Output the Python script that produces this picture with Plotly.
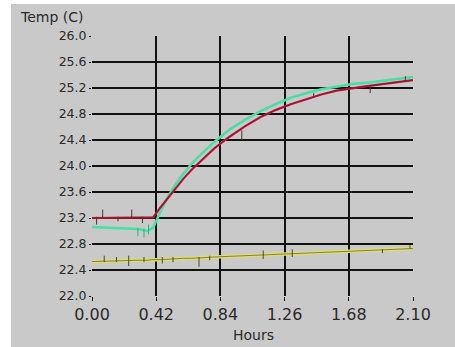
import plotly.graph_objects as go

# ---- data ----
hours = [0.00, 0.10, 0.20, 0.30, 0.36, 0.40, 0.45, 0.50, 0.55, 0.60, 0.65, 0.70,
         0.80, 0.90, 1.00, 1.10, 1.20, 1.30, 1.40, 1.50, 1.60, 1.70, 1.80, 1.90,
         2.00, 2.10]
red_temp = [23.20, 23.20, 23.20, 23.20, 23.20, 23.21, 23.37, 23.52, 23.67, 23.81,
            23.94, 24.05, 24.27, 24.45, 24.61, 24.75, 24.86, 24.95, 25.03, 25.10,
            25.16, 25.20, 25.23, 25.26, 25.29, 25.32]
cyan_temp = [23.06, 23.05, 23.04, 23.03, 23.00, 23.05, 23.31, 23.54, 23.73, 23.89,
             24.03, 24.15, 24.37, 24.56, 24.71, 24.84, 24.95, 25.05, 25.12, 25.18,
             25.22, 25.26, 25.28, 25.31, 25.34, 25.37]
olive_temp = [22.53, 22.54, 22.54, 22.55, 22.55, 22.56, 22.56, 22.57, 22.57, 22.58,
              22.58, 22.59, 22.60, 22.61, 22.62, 22.63, 22.64, 22.65, 22.66, 22.67,
              22.68, 22.69, 22.70, 22.71, 22.72, 22.73]

# noise spikes: time, low, high
red_spike_t = [0.03, 0.07, 0.17, 0.26, 0.33, 0.98, 1.45, 1.82, 2.05]
red_spike_lo = [23.10, 23.20, 23.15, 23.20, 23.12, 24.40, 25.05, 25.12, 25.30]
red_spike_hi = [23.22, 23.33, 23.22, 23.33, 23.22, 24.55, 25.12, 25.23, 25.38]
cyan_spike_t = [0.30, 0.34, 0.37]
cyan_spike_lo = [22.92, 22.90, 22.95]
cyan_spike_hi = [23.05, 23.04, 23.10]
olive_spike_t = [0.08, 0.16, 0.24, 0.34, 0.46, 0.53, 0.70, 0.77, 1.12, 1.31, 1.90, 2.08]
olive_spike_lo = [22.52, 22.52, 22.46, 22.52, 22.50, 22.52, 22.45, 22.55, 22.57, 22.60, 22.66, 22.73]
olive_spike_hi = [22.62, 22.60, 22.62, 22.60, 22.60, 22.60, 22.60, 22.62, 22.70, 22.72, 22.72, 22.78]

x_ticks = [0.00, 0.42, 0.84, 1.26, 1.68, 2.10]
x_labels = ["0.00", "0.42", "0.84", "1.26", "1.68", "2.10"]
y_ticks = [22.0, 22.4, 22.8, 23.2, 23.6, 24.0, 24.4, 24.8, 25.2, 25.6, 26.0]
y_labels = ["22.0", "22.4", "22.8", "23.2", "23.6", "24.0", "24.4", "24.8", "25.2", "25.6", "26.0"]


def spikes(ts, lo, hi):
    xs, ys = [], []
    for t, a, b in zip(ts, lo, hi):
        xs += [t, t, None]
        ys += [a, b, None]
    return xs, ys


fig = go.Figure()
fig.add_trace(go.Scatter(x=hours, y=olive_temp, mode="lines",
                         line=dict(color="#dede70", width=3.5), hoverinfo="skip"))
fig.add_trace(go.Scatter(x=hours, y=olive_temp, mode="lines",
                         line=dict(color="#6a6a28", width=0.8), hoverinfo="skip"))
sx, sy = spikes(olive_spike_t, olive_spike_lo, olive_spike_hi)
fig.add_trace(go.Scatter(x=sx, y=sy, mode="lines",
                         line=dict(color="#4a4a20", width=1), hoverinfo="skip"))

fig.add_trace(go.Scatter(x=hours, y=cyan_temp, mode="lines",
                         line=dict(color="#44e0a4", width=2.5), hoverinfo="skip"))
sx, sy = spikes(cyan_spike_t, cyan_spike_lo, cyan_spike_hi)
fig.add_trace(go.Scatter(x=sx, y=sy, mode="lines",
                         line=dict(color="#30b080", width=1), hoverinfo="skip"))
fig.add_trace(go.Scatter(x=hours, y=red_temp, mode="lines",
                         line=dict(color="#cc1040", width=2.2), hoverinfo="skip"))
fig.add_trace(go.Scatter(x=hours, y=red_temp, mode="lines",
                         line=dict(color="#702028", width=0.8), hoverinfo="skip"))
sx, sy = spikes(red_spike_t, red_spike_lo, red_spike_hi)
fig.add_trace(go.Scatter(x=sx, y=sy, mode="lines",
                         line=dict(color="#503030", width=1), hoverinfo="skip"))

fig.update_layout(
    width=455, height=347,
    margin=dict(l=92, r=42, t=36, b=51),
    paper_bgcolor="white",
    plot_bgcolor="white",
    showlegend=False,
    font=dict(family="DejaVu Sans", color="#2a2a2a"),
    shapes=[dict(type="rect", xref="paper", yref="paper",
                 x0=-0.2523, x1=1.14, y0=-0.2, y1=1.123,
                 fillcolor="#c9c9c9", line=dict(width=0), layer="below")],
    annotations=[
        dict(text="Temp (C)", xref="paper", yref="paper", x=-0.2305, y=1.073,
             xanchor="left", yanchor="middle", showarrow=False,
             font=dict(size=14, color="#2a2a2a", family="DejaVu Sans")),
        dict(text="Hours", xref="paper", yref="paper", x=0.5016, y=-0.15,
             xanchor="center", yanchor="middle", showarrow=False,
             font=dict(size=14, color="#2a2a2a", family="DejaVu Sans")),
    ],
)
fig.update_xaxes(range=[0, 2.1], tickvals=x_ticks, ticktext=x_labels,
                 showgrid=True, gridcolor="#111111", gridwidth=1.5,
                 zeroline=False, showline=False,
                 ticks="outside", ticklen=4, tickcolor="#111111",
                 tickfont=dict(size=16, family="DejaVu Sans", color="#2a2a2a"))
fig.update_yaxes(range=[22, 26], tickvals=y_ticks, ticktext=y_labels,
                 showgrid=True, gridcolor="#111111", gridwidth=1.5,
                 zeroline=False, showline=False,
                 ticks="outside", ticklen=2, tickcolor="#111111",
                 tickfont=dict(size=12.5, family="DejaVu Sans", color="#2a2a2a"))

fig.write_html("out.html", config={"displayModeBar": False},
               post_script="document.body.style.margin='0';document.body.style.overflow='hidden';")
